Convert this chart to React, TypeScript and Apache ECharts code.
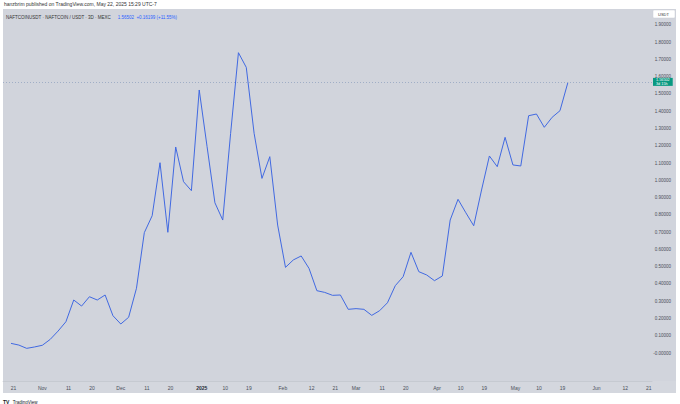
import React, { useEffect, useRef } from "react";
import * as echarts from "echarts";

// 3D closes, first bar Oct 20 2024, last bar May 21 2025
const firstBar = "2024-10-20";
const closes = [
  0.056, 0.046, 0.027, 0.035, 0.045, 0.079, 0.127, 0.181, 0.307, 0.272,
  0.326, 0.307, 0.336, 0.216, 0.168, 0.207, 0.375, 0.697, 0.795, 1.102,
  0.699, 1.193, 0.992, 0.94, 1.523, 1.195, 0.87, 0.77, 1.27, 1.739,
  1.654, 1.272, 1.011, 1.137, 0.741, 0.496, 0.539, 0.562, 0.49, 0.361,
  0.351, 0.334, 0.336, 0.253, 0.257, 0.253, 0.218, 0.245, 0.291, 0.39,
  0.442, 0.583, 0.471, 0.452, 0.419, 0.446, 0.77, 0.89, 0.812, 0.737,
  0.944, 1.141, 1.079, 1.249, 1.089, 1.083, 1.374, 1.384, 1.307, 1.365,
  1.40303, 1.56502,
];
const dateTicks = [
  "2024-10-21", "2024-11-01", "2024-11-11", "2024-11-20", "2024-12-01",
  "2024-12-11", "2024-12-20", "2025-01-01", "2025-01-10", "2025-01-19",
  "2025-02-01", "2025-02-12", "2025-02-21", "2025-03-01", "2025-03-11",
  "2025-03-20", "2025-04-01", "2025-04-10", "2025-04-19", "2025-05-01",
  "2025-05-10", "2025-05-19", "2025-06-01", "2025-06-12", "2025-06-21",
];
const priceTicks = [
  0, 0.1, 0.2, 0.3, 0.4, 0.5, 0.6, 0.7, 0.8, 0.9,
  1.0, 1.1, 1.2, 1.3, 1.4, 1.5, 1.6, 1.7, 1.8, 1.9,
];
const months = ["Jan", "Feb", "Mar", "Apr", "May", "Jun", "Jul", "Aug", "Sep", "Oct", "Nov", "Dec"];

const DAY = 86400000;
const ts = (s: string) => {
  const [y, m, d] = s.split("-").map(Number);
  return Date.UTC(y, m - 1, d);
};

export default function App() {
  const ref = useRef<HTMLDivElement>(null);
  useEffect(() => {
    if (!ref.current) return;
    const chart = echarts.init(ref.current, null, { renderer: "svg" });
    const t0 = ts(firstBar);
    const data = closes.map((v, i) => [t0 + i * 3 * DAY, v]);
    const tLast = t0 + (closes.length - 1) * 3 * DAY;
    const last = closes[closes.length - 1];
    const prev = closes[closes.length - 2];
    const chg = last - prev;
    const font = "Liberation Sans, Arial, sans-serif";
    chart.setOption({
      animation: false,
      backgroundColor: "#ffffff",
      textStyle: { fontFamily: font },
      grid: { left: 3, right: 28, top: 9, bottom: 23, containLabel: false },
      graphic: [
        { type: "rect", z: -10, shape: { x: 3, y: 9, width: 673, height: 384 }, style: { fill: "#d1d4dc" } },
        { type: "rect", z: -9, shape: { x: 3, y: 381, width: 673, height: 12 }, style: { fill: "#d4d7de" } },
        {
          type: "text", left: 4, top: 1,
          style: { text: "hanzbrim published on TradingView.com, May 22, 2025 15:29 UTC-7", fontSize: 5, fill: "#333", fontFamily: font },
        },
        {
          type: "text", left: 6, top: 11,
          style: {
            text: "{a|NAFTCOINUSDT · NAFTCOIN / USDT · 3D · MEXC}  {b|" + last.toFixed(5) + "  +" + chg.toFixed(5) + " (+" + ((chg / prev) * 100).toFixed(2) + "%)}",
            fontFamily: font,
            rich: { a: { fontSize: 4.5, fill: "#333" }, b: { fontSize: 4.5, fill: "#2962ff" } },
          },
        },
        { type: "rect", shape: { x: 653, y: 10, width: 22, height: 8, r: 1 }, style: { fill: "#ffffff", stroke: "#c9ccd4", lineWidth: 0.5 } },
        { type: "text", left: 658, top: 12, style: { text: "USDT", fontSize: 4, fill: "#333", fontFamily: font } },
        {
          type: "text", left: 3, top: 396,
          style: {
            text: "{l|TV} {t|TradingView}", fontFamily: font,
            rich: { l: { fontSize: 5, fontWeight: "bold", fill: "#131722" }, t: { fontSize: 4.5, fill: "#131722" } },
          },
        },
      ],
      xAxis: {
        type: "value",
        min: t0 - 3.06 * DAY,
        max: tLast + 32.2 * DAY,
        axisLine: { show: true, onZero: false, lineStyle: { color: "#b9bcc5", width: 0.5 } },
        axisTick: { show: false },
        splitLine: { show: false },
        axisLabel: {
          customValues: dateTicks.map(ts),
          hideOverlap: false,
          margin: 4,
          fontSize: 5,
          color: "#4a4e59",
          fontFamily: font,
          formatter: (v: number) => {
            const d = new Date(v);
            if (d.getUTCDate() === 1) {
              if (d.getUTCMonth() === 0) return "{y|" + d.getUTCFullYear() + "}";
              return months[d.getUTCMonth()];
            }
            return String(d.getUTCDate());
          },
          rich: { y: { fontSize: 5, fontWeight: "bold", color: "#2a2e39" } },
        },
      },
      yAxis: {
        type: "value",
        position: "right",
        min: -0.162,
        max: 1.992,
        axisLine: { show: false },
        axisTick: { show: false },
        splitLine: { show: false },
        axisLabel: {
          customValues: priceTicks,
          align: "right",
          margin: 19,
          fontSize: 4.5,
          lineHeight: 4.5,
          color: "#4a4e59",
          fontFamily: font,
          formatter: (v: number) => (v === 0 ? "-0.00000" : v.toFixed(5)),
        },
      },
      series: [
        {
          type: "line",
          data,
          showSymbol: false,
          lineStyle: { color: "#4169e1", width: 1 },
          markLine: {
            silent: true,
            symbol: "none",
            lineStyle: { color: "#93a5c0", type: [1, 2], width: 0.8 },
            data: [{ yAxis: last }],
            label: {
              position: "end",
              distance: 1,
              formatter: last.toFixed(5) + "\n3d 15h",
              backgroundColor: "#089981",
              color: "#ffffff",
              fontSize: 3.8,
              lineHeight: 4,
              padding: [0, 3],
              fontFamily: font,
            },
          },
        },
      ],
    });
    return () => chart.dispose();
  }, []);
  return (
    <div
      ref={ref}
      style={{ position: "fixed", left: 0, top: 0, width: 680, height: 404 }}
    />
  );
}
